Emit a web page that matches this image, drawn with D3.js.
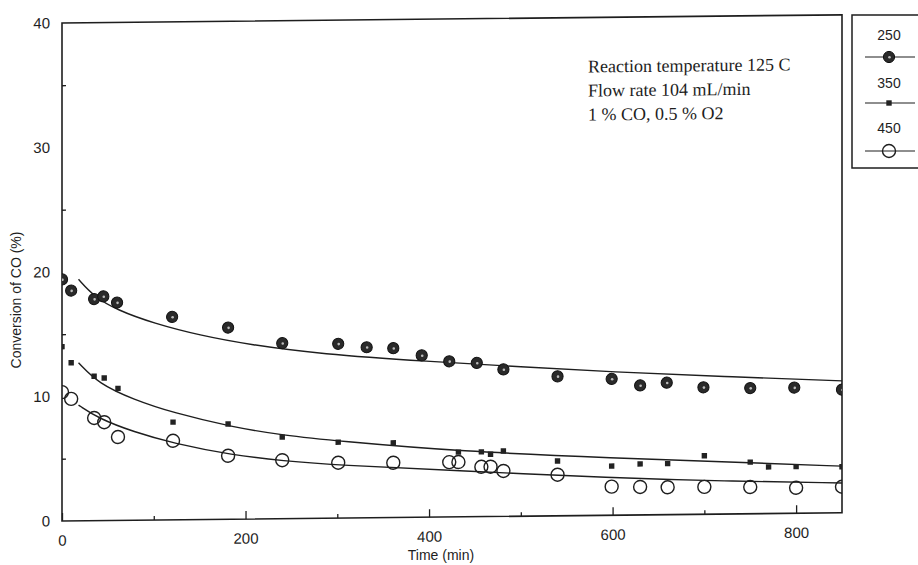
<!DOCTYPE html>
<html>
<head>
<meta charset="utf-8">
<script src="https://cdn.jsdelivr.net/npm/d3@7/dist/d3.min.js"></script>
<style>
  html, body { margin: 0; padding: 0; background: #fff; }
  svg { display: block; }
</style>
</head>
<body>
<svg id="chart" width="918" height="565"></svg>
<script>
// ---------------- DATA ----------------
const seriesNames = ["250", "350", "450"];

const time250 = [0, 10, 35, 45, 60, 120, 181, 240, 301, 332, 361, 392, 422, 452, 481, 540, 599, 630, 659, 699, 750, 798, 850];
const conv250 = [19.4, 18.5, 17.8, 18.0, 17.5, 16.3, 15.4, 14.1, 14.0, 13.7, 13.6, 13.0, 12.5, 12.35, 11.8, 11.2, 10.95, 10.4, 10.6, 10.2, 10.1, 10.1, 9.9];

const time350 = [0, 10, 35, 46, 61, 121, 181, 240, 301, 361, 432, 457, 467, 481, 540, 599, 630, 660, 700, 750, 770, 800, 850];
const conv350 = [14.0, 12.7, 11.6, 11.45, 10.6, 7.85, 7.65, 6.55, 6.1, 6.0, 5.2, 5.2, 5.0, 5.25, 4.4, 3.95, 4.1, 4.1, 4.7, 4.15, 3.75, 3.75, 3.7];

const time450 = [0, 10, 35, 46, 61, 121, 181, 240, 301, 361, 422, 432, 457, 467, 481, 540, 599, 630, 660, 700, 750, 800, 850];
const conv450 = [10.35, 9.8, 8.25, 7.9, 6.7, 6.35, 5.1, 4.7, 4.45, 4.4, 4.4, 4.4, 4.0, 4.0, 3.65, 3.3, 2.3, 2.25, 2.2, 2.2, 2.15, 2.05, 2.1];

// fitted curves
const fitTime250 = [18, 35, 60, 100, 150, 205, 281, 400, 500, 600, 720, 850];
const fitConv250 = [19.4, 18.0, 16.9, 15.8, 14.8, 14.0, 13.2, 12.5, 12.0, 11.5, 11.05, 10.6];
const fitTime350 = [18, 40, 78, 121, 186, 241, 300, 434, 600, 750, 850];
const fitConv350 = [12.7, 11.0, 9.7, 8.6, 7.4, 6.7, 6.2, 5.25, 4.6, 4.1, 3.75];
const fitTime450 = [18, 40, 78, 121, 186, 241, 300, 434, 600, 720, 850];
const fitConv450 = [9.3, 8.2, 7.1, 6.15, 5.15, 4.65, 4.25, 3.7, 3.0, 2.65, 2.4];

const xMajorTicks = [0, 200, 400, 600, 800];
const xMinorTicks = [100, 300, 500, 700];
const yMajorTicks = [0, 10, 20, 30, 40];
const yMinorTicks = [5, 15, 25, 35];

const xTitle = "Time (min)";
const yTitle = "Conversion of CO (%)";
const noteLines = ["Reaction temperature 125 C", "Flow rate 104 mL/min", "1 % CO, 0.5 % O2"];

// ---------------- LAYOUT ----------------
const L = 62, R = 842, T = 23, B = 521;
const ink = "#1e1e1e";
const sansFont = "'Liberation Sans Narrow', 'Liberation Sans', Arial, sans-serif";
const serifFont = "'Liberation Serif', 'Times New Roman', serif";

const svg = d3.select("#chart");
svg.append("rect").attr("width", 918).attr("height", 565).attr("fill", "#fff");

const x = d3.scaleLinear().domain([0, 850]).range([L, R]);
const y = d3.scaleLinear().domain([0, 40]).range([B, T]);

// the scanned plot is slightly tilted: shear around the left axis
const g = svg.append("g")
  .attr("transform", `translate(${L},0) skewY(-0.6) translate(${-L},0)`);

g.append("clipPath").attr("id", "clip")
  .append("rect").attr("x", L).attr("y", T).attr("width", R - L).attr("height", B - T);

// axes
const xAxisMajor = d3.axisBottom(x).tickValues(xMajorTicks).tickSizeInner(-8).tickSizeOuter(0).tickPadding(14)
  .tickFormat(d3.format("d"));
const xAxisMinor = d3.axisBottom(x).tickValues(xMinorTicks).tickSizeInner(-4).tickSizeOuter(0).tickFormat("");
const yAxisMajor = d3.axisLeft(y).tickValues(yMajorTicks).tickSizeInner(0).tickSizeOuter(0).tickPadding(12)
  .tickFormat(d3.format("d"));
const yAxisMinor = d3.axisLeft(y).tickValues(yMinorTicks).tickSizeInner(-4).tickSizeOuter(0).tickFormat("");

function styleAxis(sel) {
  sel.select(".domain").remove();
  sel.selectAll(".tick line").attr("stroke", ink).attr("stroke-width", 1.3);
  sel.selectAll(".tick text").attr("fill", ink).style("font-family", sansFont).style("font-size", "15px");
}
g.append("g").attr("transform", `translate(0,${B})`).call(xAxisMajor).call(styleAxis);
g.append("g").attr("transform", `translate(0,${B})`).call(xAxisMinor).call(styleAxis);
g.append("g").attr("transform", `translate(${L},0)`).call(yAxisMajor).call(styleAxis);
g.append("g").attr("transform", `translate(${L},0)`).call(yAxisMinor).call(styleAxis);

// frame
g.append("rect").attr("x", L).attr("y", T).attr("width", R - L).attr("height", B - T)
  .attr("fill", "none").attr("stroke", ink).attr("stroke-width", 1.6);

// fitted lines
const line = d3.line().x(d => x(d[0])).y(d => y(d[1])).curve(d3.curveBasis);
const fits = [
  d3.zip(fitTime250, fitConv250),
  d3.zip(fitTime350, fitConv350),
  d3.zip(fitTime450, fitConv450)
];
const plot = g.append("g").attr("clip-path", "url(#clip)");
fits.forEach(f => {
  plot.append("path").datum(f).attr("d", line)
    .attr("fill", "none").attr("stroke", ink).attr("stroke-width", 1.4);
});

// markers
function drawFilledCircle(sel, cx, cy) {
  sel.append("circle").attr("cx", cx).attr("cy", cy).attr("r", 5.6)
    .attr("fill", "#2a2a2a").attr("stroke", "#111").attr("stroke-width", 1);
  sel.append("circle").attr("cx", cx + 0.5).attr("cy", cy + 0.3).attr("r", 1.3).attr("fill", "#bbb");
}
function drawSquare(sel, cx, cy) {
  sel.append("rect").attr("x", cx - 2.7).attr("y", cy - 2.7).attr("width", 5.4).attr("height", 5.4)
    .attr("fill", "#222");
}
function drawOpenCircle(sel, cx, cy) {
  sel.append("circle").attr("cx", cx).attr("cy", cy).attr("r", 6.5)
    .attr("fill", "none").attr("stroke", ink).attr("stroke-width", 1.4);
}

const m250 = plot.append("g");
d3.zip(time250, conv250).forEach(d => drawFilledCircle(m250, x(d[0]), y(d[1])));
const m350 = plot.append("g");
d3.zip(time350, conv350).forEach(d => drawSquare(m350, x(d[0]), y(d[1])));
const m450 = plot.append("g");
d3.zip(time450, conv450).forEach(d => drawOpenCircle(m450, x(d[0]), y(d[1])));

// annotation
const note = g.append("text").attr("x", 588).attr("y", 78)
  .style("font-family", serifFont).style("font-size", "18px").attr("fill", ink);
noteLines.forEach((t, i) => {
  note.append("tspan").attr("x", 588).attr("dy", i === 0 ? 0 : 24).text(t);
});

// axis titles
svg.append("text").attr("x", 441).attr("y", 560).attr("text-anchor", "middle")
  .style("font-family", sansFont).style("font-size", "14px").attr("fill", ink).text(xTitle);
svg.append("text").attr("transform", "translate(21,300) rotate(-90)").attr("text-anchor", "middle")
  .style("font-family", sansFont).style("font-size", "14px").attr("fill", ink).text(yTitle);

// legend
const lg = svg.append("g");
lg.append("rect").attr("x", 852).attr("y", 15).attr("width", 80).attr("height", 153)
  .attr("fill", "#fff").attr("stroke", ink).attr("stroke-width", 1.5);
const legendTextY = [40, 88, 133];
const legendLineY = [57, 103, 151];
const drawers = [drawFilledCircle, drawSquare, drawOpenCircle];
seriesNames.forEach((name, i) => {
  lg.append("text").attr("x", 889).attr("y", legendTextY[i]).attr("text-anchor", "middle")
    .style("font-family", sansFont).style("font-size", "14px").attr("fill", ink).text(name);
  lg.append("line").attr("x1", 865).attr("x2", 915).attr("y1", legendLineY[i]).attr("y2", legendLineY[i])
    .attr("stroke", ink).attr("stroke-width", 1.2);
  drawers[i](lg, 889, legendLineY[i]);
});
</script>
</body>
</html>
